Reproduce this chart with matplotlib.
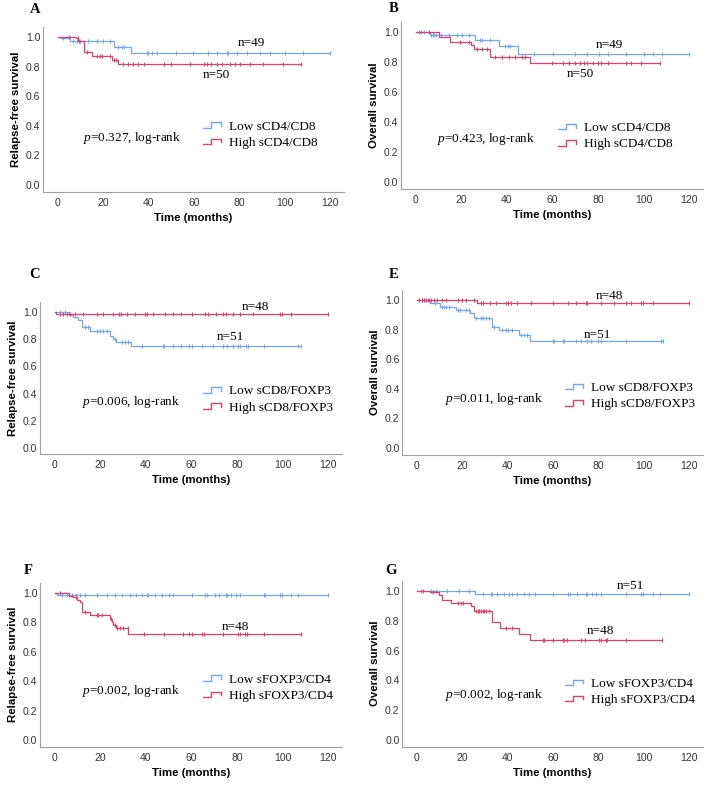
import matplotlib
matplotlib.use("Agg")
import matplotlib.pyplot as plt
import numpy as np
from matplotlib.lines import Line2D
from matplotlib.legend_handler import HandlerBase

plt.rcParams['font.family'] = 'Liberation Sans'
plt.rcParams['mathtext.fontset'] = 'custom'
plt.rcParams['mathtext.it'] = 'Liberation Serif:italic'
plt.rcParams['mathtext.rm'] = 'Liberation Serif'

BLUE = '#72a8f0'
RED = '#e2406a'
SERIF = 'Liberation Serif'

# ---- data (step times / survival, end of follow-up, censored times)
# A: relapse-free, sCD4/CD8
a_low_t = [0, 1, 5.5, 25, 32.5]
a_low_s = [1.0, 0.99, 0.97, 0.935, 0.893]
a_low_end = 120
a_low_cens = [2.2, 6.9, 8.4, 9.8, 13.5, 17.2, 20.1, 23.1, 26.7, 28.2, 29.2, 39.2, 39.9, 41.4,
              43.6, 52, 59.8, 66.1, 70, 74.4, 75.2, 78.9, 83.3, 89.1, 93.5, 100.1, 108.2, 120]
a_high_t = [0, 8, 9, 11.5, 15, 24, 26.5]
a_high_s = [1.0, 0.99, 0.975, 0.90, 0.875, 0.845, 0.815]
a_high_end = 107
a_high_cens = [5, 8.8, 9.4, 12.8, 17.2, 18.6, 19.4, 23.1, 25, 25.7, 28.9, 31.1, 33, 35.5, 38,
               47, 49.9, 58.3, 64.5, 65.9, 67.5, 70.3, 72.2, 75.9, 78.1, 80.3, 84.7, 90.3, 99.1, 107]

# B: overall, sCD4/CD8
b_low_t = [0, 6, 26, 36.7, 45]
b_low_s = [1.0, 0.982, 0.944, 0.908, 0.855]
b_low_end = 120
b_low_cens = [1.5, 2.3, 3.4, 6.6, 7.3, 8.1, 8.9, 11, 14.4, 18, 20.2, 23.2, 28.3, 29, 32.7, 39.3,
              40.3, 41.5, 51.8, 60.1, 70.1, 75.2, 80.4, 84.3, 92.1, 100.1, 104.1, 108.2, 120]
b_high_t = [0, 10.3, 15.1, 24.2, 25.7, 32.7, 50]
b_high_s = [1.0, 0.964, 0.935, 0.915, 0.888, 0.833, 0.792]
b_high_end = 107.2
b_high_cens = [5.6, 19.2, 23.2, 26.8, 29, 31.2, 34.9, 37.8, 40.8, 43.7, 46.6, 48.1, 59.8, 64.7,
               67.2, 70.1, 72.3, 73.8, 75.2, 77.9, 79.9, 81.1, 84.5, 92.1, 94.3, 99, 107.2]

# C: relapse-free, sCD8/FOXP3
c_low_t = [0, 6, 8, 10.2, 11.7, 15.4, 24.2, 25.3, 27, 33.2]
c_low_s = [1.0, 0.98, 0.96, 0.94, 0.89, 0.86, 0.825, 0.805, 0.78, 0.748]
c_low_end = 108.3
c_low_cens = [2.2, 4.4, 13.2, 14.6, 18.3, 19.8, 21.2, 22.7, 26.4, 29.3, 30.7, 32.2, 38.1, 47.3,
              48, 52, 55.6, 59, 60, 64.4, 69.5, 73.9, 75.4, 78.3, 80.5, 81.3, 83.9, 84.9, 91.8,
              106.9, 108.3]
c_high_t = [0, 0.5]
c_high_s = [1.0, 0.985]
c_high_end = 120
c_high_cens = [2.2, 3.7, 5.1, 6.6, 8.8, 12.4, 18.3, 21.2, 25.6, 28.3, 28.8, 31.5, 35.1, 39.5,
               40.3, 43.2, 48.3, 52, 55.6, 60, 65.9, 67.3, 70.7, 73.9, 75, 78.3, 81.2, 87.1,
               98.8, 99.9, 103.9, 120]

# E: overall, sCD8/FOXP3
e_low_t = [0, 5.7, 10, 17, 23.3, 25, 33.3, 36, 44.8, 49.8]
e_low_s = [1.0, 0.98, 0.955, 0.93, 0.91, 0.88, 0.82, 0.795, 0.765, 0.725]
e_low_end = 108.7
e_low_cens = [1, 2.2, 3.2, 4.7, 8.1, 10.9, 12, 12.8, 14.2, 17.9, 19.1, 21.6, 23.1, 26, 28.2, 28.9,
              30.4, 31.9, 34.1, 37.7, 39.2, 40.2, 42.1, 45.8, 47.3, 48.7, 59.8, 60.5, 64.2, 64.9,
              70, 72.2, 74.9, 76.9, 80, 81.1, 92.1, 107.5, 108.7]
e_high_t = [0, 26.3]
e_high_s = [1.0, 0.98]
e_high_end = 120
e_high_cens = [1, 2.2, 2.9, 4, 5.4, 6.2, 7.3, 8.8, 10.9, 12.8, 18.2, 19.7, 21.6, 25, 28.2, 28.9,
               32.2, 34.8, 39.2, 40.2, 41.4, 44.3, 50.2, 60.1, 66.4, 70, 74.7, 75.2, 81.1, 86.9,
               92.1, 94.3, 99, 99.7, 104.1, 120]

# F: relapse-free, sFOXP3/CD4
f_low_t = [0, 0.7]
f_low_s = [1.0, 0.985]
f_low_end = 120
f_low_cens = [2.9, 5.1, 6.3, 7.3, 9.2, 11, 13.2, 18.3, 22.7, 26.4, 29.3, 32.9, 35.4, 38.1, 40.3,
              41, 43.9, 47.1, 50.2, 52, 60, 65.9, 66.9, 70.3, 72.2, 75, 75.4, 77.3, 79.5, 81.3,
              91.8, 92.2, 98.8, 99.9, 103.9, 106.9, 120]
f_high_t = [0, 6.2, 8, 9.5, 11, 12, 15.4, 24.2, 24.9, 25.6, 26.8, 32.2]
f_high_s = [1.0, 0.98, 0.97, 0.955, 0.94, 0.87, 0.85, 0.825, 0.80, 0.785, 0.76, 0.72]
f_high_end = 108.3
f_high_cens = [2.2, 9.2, 13.2, 18.3, 19, 20.5, 24.5, 26.4, 27.1, 28.6, 29.7, 32, 39.1, 47.9,
               56.1, 59, 60, 64.4, 65.4, 73.9, 80.5, 81.3, 83.5, 84.2, 91.8, 108.3]

# G: overall, sFOXP3/CD4
g_low_t = [0, 25.6]
g_low_s = [1.0, 0.978]
g_low_end = 120
g_low_cens = [1.8, 6.2, 8.4, 13.2, 18.4, 23.1, 28.9, 32.6, 33.3, 35.5, 38.2, 40.7, 42.1, 44.3,
              47.3, 49.5, 52, 60.1, 66.4, 67.5, 70.5, 74.7, 75.2, 77.1, 78.9, 81.1, 92.1, 99,
              99.7, 104.1, 107.2, 120]
g_high_t = [0, 5.9, 9.8, 10.9, 15, 23.8, 25.3, 33, 36.7, 44.8, 49.8]
g_high_s = [1.0, 0.99, 0.97, 0.94, 0.92, 0.897, 0.865, 0.79, 0.753, 0.713, 0.668]
g_high_end = 108.2
g_high_cens = [2.5, 6.9, 17.9, 19.4, 20.1, 26, 26.7, 27.5, 28.2, 28.9, 29.7, 30.4, 31.9, 39.2,
               42.1, 55.4, 56.1, 60.1, 64.2, 64.9, 66.1, 72.2, 74.2, 80.3, 81.1, 83.3, 84, 92.1,
               108.2]

W, H = 709, 785
XLIM = (-6.6, 126)
YLIM = (-0.045, 1.07)

fig = plt.figure(figsize=(W / 100, H / 100), dpi=100)


class StepHandler(HandlerBase):
    def create_artists(self, legend, orig_handle, xdescent, ydescent, width, height, fontsize, trans):
        xs = np.array([0, 0.45, 0.45, 1, 1]) * width - xdescent
        ys = np.array([0.2, 0.2, 0.8, 0.8, 0.4]) * height - ydescent
        return [Line2D(xs, ys, color=orig_handle.get_color(), lw=1.0, transform=trans)]


def panel(x0, x120, y0, y1):
    # place axes so that t=0/120 and S=0/1 land on the given pixel positions
    ppm = (x120 - x0) / 120
    ppu = y0 - y1
    left = x0 + XLIM[0] * ppm
    right = x0 + XLIM[1] * ppm
    bottom = y0 - YLIM[0] * ppu
    top = y0 - YLIM[1] * ppu
    ax = fig.add_axes([left / W, 1 - bottom / H, (right - left) / W, (bottom - top) / H])
    ax.set_xlim(*XLIM)
    ax.set_ylim(*YLIM)
    for s in ['top', 'right']:
        ax.spines[s].set_visible(False)
    for s in ['left', 'bottom']:
        ax.spines[s].set_color('#a0a0a0')
        ax.spines[s].set_linewidth(0.8)
    ax.set_xticks([0, 20, 40, 60, 80, 100, 120])
    ax.set_yticks([0.0, 0.2, 0.4, 0.6, 0.8, 1.0])
    ax.set_yticklabels(['0.0', '0.2', '0.4', '0.6', '0.8', '1.0'])
    ax.tick_params(axis='both', length=0, labelsize=7.5, colors='#333333')
    ax.tick_params(axis='x', pad=4.5)
    ax.tick_params(axis='y', pad=1.8)
    ax.xaxis.set_label_coords(0.5, -21 / (bottom - top))
    ax.yaxis.set_label_coords(-22 / (right - left), 0.5)
    return ax


def km(ax, t, s, end, cens, color):
    tt = list(t) + [end]
    ss = list(s) + [s[-1]]
    ax.step(tt, ss, where='post', color=color, lw=0.9)
    idx = np.searchsorted(t, cens, side='right') - 1
    ax.plot(cens, np.array(s)[idx], ls='none', marker='|', ms=3.5, mew=0.8, color=color)


def decorate(ax, ylabel, pval, labels, leg_x, leg_y, nlabels):
    ax.set_xlabel('Time (months)', fontsize=8.2, fontweight='bold')
    ax.set_ylabel(ylabel, fontsize=8.2, fontweight='bold')
    ax.text(leg_x - 53, leg_y - 0.02, r'$p$=' + pval + ', log-rank', family=SERIF,
            fontsize=9.5, va='center', ha='left')
    handles = [Line2D([], [], color=BLUE), Line2D([], [], color=RED)]
    ax.legend(handles, labels, handler_map={Line2D: StepHandler()}, loc='center left',
              bbox_to_anchor=(leg_x, leg_y), bbox_transform=ax.transData, frameon=False,
              borderpad=0, borderaxespad=0, handlelength=1.4, handletextpad=0.6,
              labelspacing=0.3, prop={'family': SERIF, 'size': 9.5})
    for txt, tx, sy in nlabels:
        ax.text(tx, sy, txt, family=SERIF, fontsize=9.5, ha='center', va='center')


# A
ax = panel(57.7, 330, 185, 37)
km(ax, a_low_t, a_low_s, a_low_end, a_low_cens, BLUE)
km(ax, a_high_t, a_high_s, a_high_end, a_high_cens, RED)
decorate(ax, 'Relapse-free survival', '0.327', ['Low sCD4/CD8', 'High sCD4/CD8'], 64, 0.34,
         [('n=49', 85.5, 0.957), ('n=50', 69.7, 0.743)])

# B
ax = panel(416, 689, 182, 32)
km(ax, b_low_t, b_low_s, b_low_end, b_low_cens, BLUE)
km(ax, b_high_t, b_high_s, b_high_end, b_high_cens, RED)
decorate(ax, 'Overall survival', '0.423', ['Low sCD4/CD8', 'High sCD4/CD8'], 62.4, 0.305,
         [('n=49', 84.8, 0.913), ('n=50', 72.4, 0.72)])

# C
ax = panel(55, 328, 448, 312)
km(ax, c_low_t, c_low_s, c_low_end, c_low_cens, BLUE)
km(ax, c_high_t, c_high_s, c_high_end, c_high_cens, RED)
decorate(ax, 'Relapse-free survival', '0.006', ['Low sCD8/FOXP3', 'High sCD8/FOXP3'], 65, 0.357,
         [('n=48', 87.9, 1.037), ('n=51', 76.9, 0.816)])

# E
ax = panel(417, 689, 448, 300)
km(ax, e_low_t, e_low_s, e_low_end, e_low_cens, BLUE)
km(ax, e_high_t, e_high_s, e_high_end, e_high_cens, RED)
decorate(ax, 'Overall survival', '0.011', ['Low sCD8/FOXP3', 'High sCD8/FOXP3'], 65.2, 0.35,
         [('n=48', 84.7, 1.025), ('n=51', 79.6, 0.766)])

# F
ax = panel(55, 328, 740, 593)
km(ax, f_low_t, f_low_s, f_low_end, f_low_cens, BLUE)
km(ax, f_high_t, f_high_s, f_high_end, f_high_cens, RED)
decorate(ax, 'Relapse-free survival', '0.002', ['Low sFOXP3/CD4', 'High sFOXP3/CD4'], 65, 0.355,
         [('n=48', 79.1, 0.771)])

# G
ax = panel(417, 689, 740, 591)
km(ax, g_low_t, g_low_s, g_low_end, g_low_cens, BLUE)
km(ax, g_high_t, g_high_s, g_high_end, g_high_cens, RED)
decorate(ax, 'Overall survival', '0.002', ['Low sFOXP3/CD4', 'High sFOXP3/CD4'], 65.2, 0.323,
         [('n=51', 94.3, 1.036), ('n=48', 81, 0.73)])

# panel letters
for letter, px, py in [('A', 35, 9.5), ('B', 394, 8), ('C', 35, 275), ('E', 394, 275),
                       ('F', 28, 571), ('G', 391, 571)]:
    fig.text(px / W, 1 - py / H, letter, family=SERIF, fontsize=10.5, fontweight='bold',
             ha='center', va='center')

fig.savefig('out.png', dpi=100)
